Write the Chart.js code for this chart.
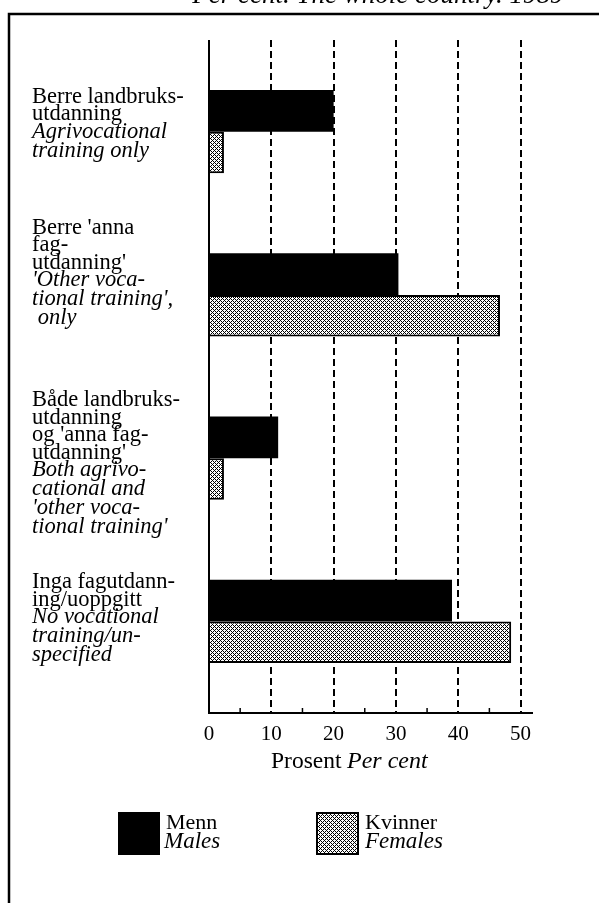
<!DOCTYPE html>
<html>
<head>
<meta charset="utf-8">
<script src="https://cdn.jsdelivr.net/npm/chart.js@4.4.1/dist/chart.umd.min.js"></script>
<style>
  html, body { margin: 0; padding: 0; background: #fff; }
  #wrap { width: 599px; height: 903px; }
</style>
</head>
<body>
<div id="wrap"><canvas id="c" width="599" height="903"></canvas></div>
<script>
// categories (Norwegian + English label lines)
const CATEGORIES = ['Berre landbruksutdanning', "Berre 'anna fagutdanning'", "Både landbruks- og 'anna fagutdanning'", 'Inga fagutdanning/uoppgitt'];
const LABEL_NO = [
  ['Berre landbruks-', 'utdanning'],
  ["Berre 'anna", 'fag-', "utdanning'"],
  ['Både landbruks-', 'utdanning', "og 'anna fag-", "utdanning'"],
  ['Inga fagutdann-', 'ing/uoppgitt']
];
const LABEL_EN = [
  ['Agrivocational', 'training only'],
  ["'Other voca-", "tional training',", ' only'],
  ['Both agrivo-', 'cational and', "'other voca-", "tional training'"],
  ['No vocational', 'training/un-', 'specified']
];
// per cent
const MALES   = [20.0, 30.4, 11.1, 39.0];
const FEMALES = [2.4, 46.7, 2.4, 48.5];
const X_TICKS = [0, 10, 20, 30, 40, 50];
const X_MINOR = [5, 15, 25, 35, 45];

const SERIF = '"Liberation Serif", "Times New Roman", serif';
const LABEL_DY = [-29, -61, -52, -33];   // first baseline relative to category centre
const LINE_H = 17.5;

function dotPattern() {
  const p = document.createElement('canvas');
  p.width = 4; p.height = 4;
  const g = p.getContext('2d');
  g.fillStyle = '#fff';
  g.fillRect(0, 0, 4, 4);
  g.fillStyle = '#000';
  for (let x = 0; x < 4; x++) for (let y = 0; y < 4; y++) {
    if ((x + y) % 4 === 0 || (x - y + 4) % 4 === 0) g.fillRect(x, y, 1, 1);
  }
  return document.getElementById('c').getContext('2d').createPattern(p, 'repeat');
}
const PAT = dotPattern();

const decor = {
  id: 'decor',
  beforeDatasetsDraw(chart) {
    const { ctx, scales: { x } } = chart;
    ctx.save();
    ctx.strokeStyle = '#000';
    ctx.lineWidth = 2;
    ctx.setLineDash([7, 4]);
    X_TICKS.slice(1).forEach(v => {
      const px = Math.round(x.getPixelForValue(v));
      ctx.beginPath(); ctx.moveTo(px, 40); ctx.lineTo(px, 713); ctx.stroke();
    });
    ctx.restore();
  },
  afterDatasetsDraw(chart) {
    const { ctx, scales: { x } } = chart;
    const x0 = x.getPixelForValue(0);
    ctx.save();
    ctx.strokeStyle = '#000';
    ctx.lineWidth = 2;
    ctx.beginPath(); ctx.moveTo(x0, 40); ctx.lineTo(x0, 714); ctx.stroke();
    ctx.beginPath(); ctx.moveTo(x0, 713); ctx.lineTo(x.right, 713); ctx.stroke();
    ctx.lineWidth = 1.5;
    X_MINOR.forEach(v => {
      const px = x.getPixelForValue(v);
      ctx.beginPath(); ctx.moveTo(px, 713); ctx.lineTo(px, 708); ctx.stroke();
    });
    ctx.restore();
  },
  afterDraw(chart) {
    const { ctx, scales: { y } } = chart;
    ctx.save();
    ctx.fillStyle = '#000';
    ctx.textBaseline = 'alphabetic';
    ctx.textAlign = 'left';
    // category labels
    CATEGORIES.forEach((c, i) => {
      let by = y.getPixelForValue(i) + LABEL_DY[i];
      ctx.font = '22.5px ' + SERIF;
      LABEL_NO[i].forEach(t => { ctx.fillText(t, 32, by); by += LINE_H; });
      ctx.font = 'italic 22.5px ' + SERIF;
      LABEL_EN[i].forEach(t => { ctx.fillText(t, 32, by); by += LINE_H + 1.5; });
    });
    // axis title
    ctx.font = '23.5px ' + SERIF;
    ctx.fillText('Prosent', 271, 768);
    ctx.font = 'italic 24px ' + SERIF;
    ctx.fillText('Per cent', 347, 768);
    // legend
    ctx.fillStyle = '#000';
    ctx.fillRect(118, 812, 42, 43);
    ctx.fillStyle = PAT;
    ctx.fillRect(316, 812, 43, 43);
    ctx.strokeStyle = '#000';
    ctx.lineWidth = 2;
    ctx.strokeRect(317, 813, 41, 41);
    ctx.fillStyle = '#000';
    ctx.font = '22px ' + SERIF;
    ctx.fillText('Menn', 166, 829);
    ctx.fillText('Kvinner', 365, 829);
    ctx.font = 'italic 23px ' + SERIF;
    ctx.fillText('Males', 164, 848);
    ctx.fillText('Females', 365, 848);
    // frame and cut-off heading
    ctx.lineWidth = 2.5;
    ctx.beginPath(); ctx.moveTo(9, 903); ctx.lineTo(9, 14); ctx.lineTo(599, 14); ctx.stroke();
    ctx.font = 'italic 27px ' + SERIF;
    ctx.fillText('– Per cent. The whole country. 1989', 172, 3);
    ctx.restore();
  }
};

new Chart(document.getElementById('c'), {
  type: 'bar',
  data: {
    labels: CATEGORIES,
    datasets: [
      { label: 'Menn / Males', data: MALES, backgroundColor: '#000', borderColor: '#000', borderWidth: 0 },
      { label: 'Kvinner / Females', data: FEMALES, backgroundColor: PAT, borderColor: '#000', borderWidth: 2 }
    ]
  },
  options: {
    indexAxis: 'y',
    responsive: false,
    animation: false,
    devicePixelRatio: 1,
    categoryPercentage: 0.51,
    barPercentage: 1.0,
    layout: { padding: { left: 209, right: 66, top: 50, bottom: 0 } },
    plugins: { legend: { display: false }, tooltip: { enabled: false } },
    scales: {
      y: { display: false, grid: { display: false } },
      x: {
        min: 0, max: 52,
        afterBuildTicks: s => { s.ticks = X_TICKS.map(v => ({ value: v })); },
        afterFit: s => { s.height = 200; },
        grid: { display: false, drawTicks: false },
        border: { display: false },
        ticks: { color: '#000', padding: 19, font: { family: SERIF, size: 21 } }
      }
    }
  },
  plugins: [decor]
});
</script>
</body>
</html>
